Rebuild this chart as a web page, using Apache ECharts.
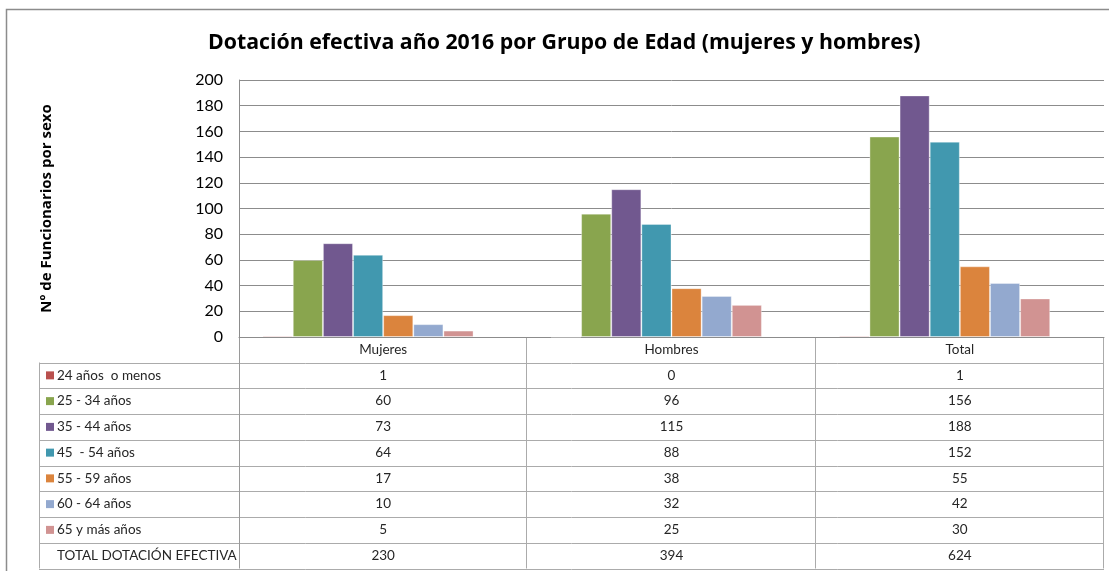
<!DOCTYPE html>
<html>
<head>
<meta charset="utf-8">
<script src="https://cdn.jsdelivr.net/npm/echarts@6/dist/echarts.min.js"></script>
<style>
  html, body { margin: 0; padding: 0; background: #fff; }
  #chart { width: 1109px; height: 571px; }
</style>
</head>
<body>
<div id="chart"></div>
<script>
const categories = ['Mujeres', 'Hombres', 'Total'];
const groups = ['24 años  o menos', '25 - 34 años', '35 - 44 años', '45  - 54 años', '55 - 59 años', '60 - 64 años', '65 y más años'];
const v24 = [1, 0, 1];
const v25 = [60, 96, 156];
const v35 = [73, 115, 188];
const v45 = [64, 88, 152];
const v55 = [17, 38, 55];
const v60 = [10, 32, 42];
const v65 = [5, 25, 30];
const totalLabel = 'TOTAL DOTACIÓN EFECTIVA';
const totals = [230, 394, 624];
const yTicks = { min: 0, max: 200, interval: 20 };

const colors = ['#B9504E', '#89A54E', '#71588F', '#4198AF', '#DB843D', '#93A9CF', '#D19392'];
const values = [v24, v25, v35, v45, v55, v60, v65];

const font = 'Lato, "Open Sans", sans-serif';
const titleFont = '"Open Sans", Lato, sans-serif';
const W = 1109;
const gridLeft = 239, gridRight = 5, gridTop = 80, gridBottomY = 337;
const colW = (W - gridRight - gridLeft) / categories.length;
const tableLeft = 39, headTop = gridBottomY, rowTop = 362.5, rowH = 25.75;

const chart = echarts.init(document.getElementById('chart'));

// table drawn below the plot (acts as the legend too)
const graphic = [];
const lineStyle = { stroke: '#ababab', lineWidth: 1 };
const allRows = groups.concat([totalLabel]);
const allVals = values.concat([totals]);
const tableBottom = rowTop + rowH * allRows.length;

// outer frame
graphic.push({ type: 'rect', shape: { x: 6.5, y: 9.5, width: W + 10, height: 600 },
  style: { fill: null, stroke: '#8c8c8c', lineWidth: 1.5 }, silent: true });

for (let r = 0; r <= allRows.length; r++) {
  const y = Math.round(rowTop + r * rowH) + 0.5;
  graphic.push({ type: 'line', shape: { x1: tableLeft, y1: y, x2: W - gridRight, y2: y }, style: lineStyle, silent: true });
}
graphic.push({ type: 'line', shape: { x1: tableLeft + 0.5, y1: rowTop, x2: tableLeft + 0.5, y2: tableBottom }, style: lineStyle, silent: true });
for (let c = 1; c <= categories.length; c++) {
  const x = Math.round(gridLeft + c * colW) - 0.5;
  graphic.push({ type: 'line', shape: { x1: x, y1: headTop, x2: x, y2: tableBottom }, style: lineStyle, silent: true });
}
graphic.push({ type: 'line', shape: { x1: gridLeft + 0.5, y1: headTop, x2: gridLeft + 0.5, y2: tableBottom }, style: { stroke: '#9a9a9a', lineWidth: 1 }, silent: true });

allRows.forEach((name, r) => {
  const cy = rowTop + (r + 0.5) * rowH;
  if (r < groups.length) {
    graphic.push({ type: 'rect', shape: { x: 46, y: cy - 4, width: 8, height: 8 }, style: { fill: colors[r] }, silent: true });
  }
  graphic.push({ type: 'text', x: 57, y: cy, silent: true,
    style: { text: name, font: '13.5px ' + font, fill: '#262626', verticalAlign: 'middle' } });
  allVals[r].forEach((v, c) => {
    graphic.push({ type: 'text', x: gridLeft + (c + 0.5) * colW, y: cy, silent: true,
      style: { text: String(v), font: '13.5px ' + font, fill: '#262626', align: 'center', verticalAlign: 'middle' } });
  });
});

const series = groups.map((g, i) => ({
  name: g,
  type: 'bar',
  data: values[i],
  barGap: '0%',
  barCategoryGap: '16.4%',
  itemStyle: { color: colors[i], borderColor: 'rgba(255,255,255,0.35)', borderWidth: 1 },
  emphasis: { disabled: true }
}));
// the total row is a series too in the source chart, with no fill
series.push({
  name: totalLabel,
  type: 'bar',
  data: totals,
  barGap: '0%',
  barCategoryGap: '16.4%',
  itemStyle: { color: 'rgba(0,0,0,0)' },
  emphasis: { disabled: true },
  clip: true
});

const option = {
  backgroundColor: '#fff',
  animation: false,
  title: {
    text: 'Dotación efectiva año 2016 por Grupo de Edad (mujeres y hombres)',
    left: 203,
    top: 27,
    textStyle: { fontFamily: titleFont, fontSize: 21.3, fontWeight: 'bold', color: '#000' }
  },
  grid: { left: gridLeft, right: gridRight, top: gridTop, bottom: 571 - gridBottomY, containLabel: false },
  xAxis: {
    type: 'category',
    data: categories,
    axisLine: { show: true, lineStyle: { color: '#8c8c8c' } },
    axisTick: { show: false },
    axisLabel: { margin: 6, fontFamily: font, fontSize: 13.5, color: '#262626' }
  },
  yAxis: {
    type: 'value',
    min: yTicks.min,
    max: yTicks.max,
    interval: yTicks.interval,
    name: 'Nº de Funcionarios por sexo',
    nameLocation: 'middle',
    nameGap: 185,
    nameTextStyle: { fontFamily: titleFont, fontSize: 15, fontWeight: 'bold', color: '#000' },
    axisLine: { show: true, lineStyle: { color: '#8c8c8c' } },
    axisTick: { show: false },
    axisLabel: { margin: 16, fontFamily: font, fontSize: 16, color: '#000' },
    splitLine: { lineStyle: { color: '#8c8c8c' } }
  },
  tooltip: { show: false },
  series: series,
  graphic: graphic
};

chart.setOption(option);
</script>
</body>
</html>
